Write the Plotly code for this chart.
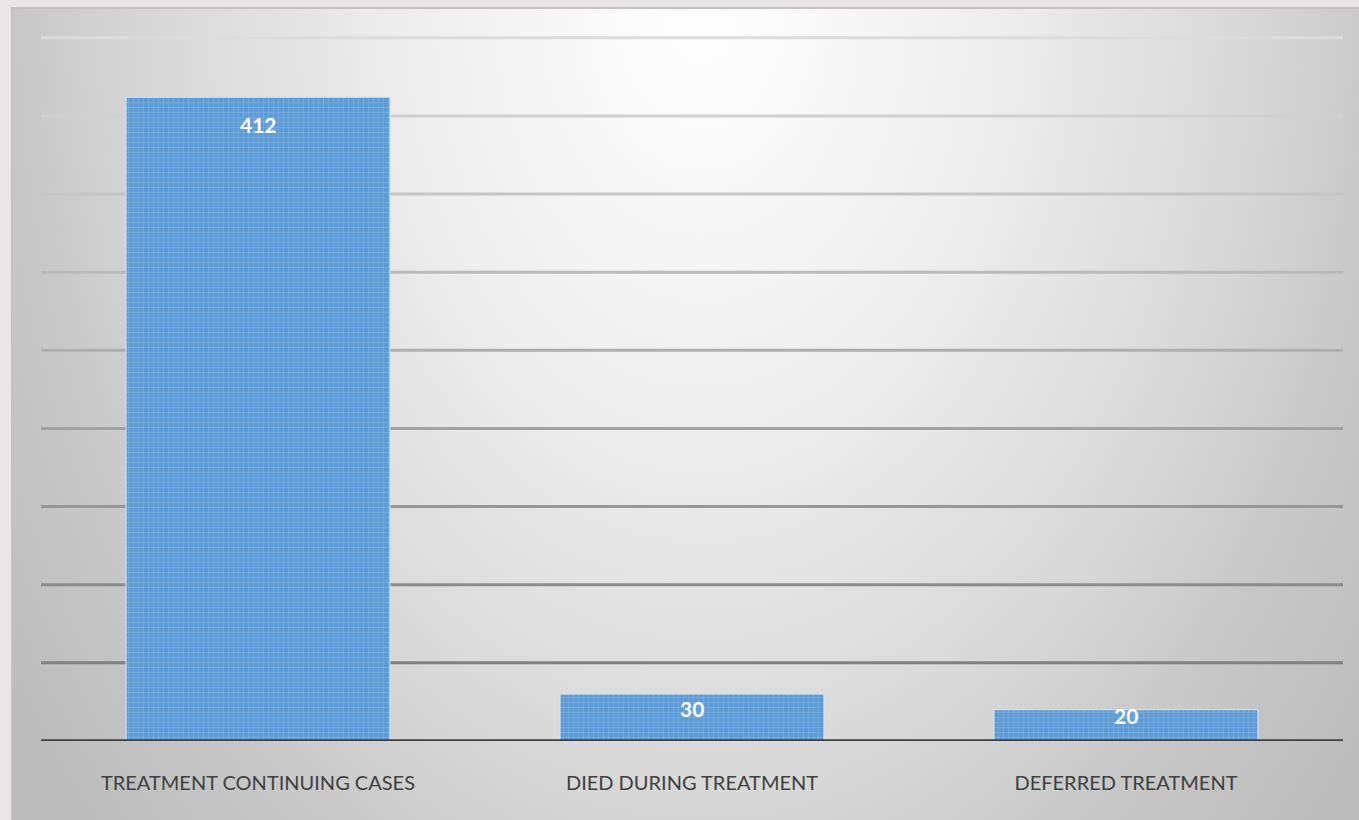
import base64
import plotly.graph_objects as go

# ---- data ----
categories = ["TREATMENT CONTINUING CASES", "DIED DURING TREATMENT", "DEFERRED TREATMENT"]
values = [412, 30, 20]
grid_ticks = [50, 100, 150, 200, 250, 300, 350, 400, 450]

# label offsets (px, below bar top) as in the reference rendering
label_shift = [-27, -14, -6]

W, H = 1359, 820

# radial gradient panel as an inline SVG image (panel starts at x=11, y=7)
svg = (
    "<svg xmlns='http://www.w3.org/2000/svg' width='1348' height='813' viewBox='0 0 1348 813' preserveAspectRatio='none'>"
    "<defs><radialGradient id='g' gradientUnits='userSpaceOnUse' cx='690' cy='0' r='1200' "
    "gradientTransform='translate(690,0) scale(0.7,1) translate(-690,0)'>"
    "<stop offset='0' stop-color='#ffffff'/>"
    "<stop offset='0.35' stop-color='#eeeeee'/>"
    "<stop offset='0.67' stop-color='#d6d6d6'/>"
    "<stop offset='0.8' stop-color='#c9c9c9'/>"
    "<stop offset='1' stop-color='#bcbcbc'/>"
    "</radialGradient></defs>"
    "<rect x='0' y='0' width='1348' height='813' fill='url(#g)'/>"
    "<rect x='0' y='0' width='1348' height='2' fill='#c2c2c2'/>"
    "<rect x='0' y='0' width='2' height='813' fill='#c2c2c2'/>"
    "</svg>"
)
src = "data:image/svg+xml;base64," + base64.b64encode(svg.encode()).decode()

fig = go.Figure()
fig.add_trace(go.Bar(
    x=categories,
    y=values,
    width=0.608,
    marker=dict(
        color="#5d9cd6",
        line=dict(color="#d6e4f2", width=1),
        pattern=dict(shape="+", size=5, solidity=0.15, fgcolor="#b3d1ee", fgopacity=0.6, bgcolor="#5d9cd6"),
    ),
    hoverinfo="x+y",
))

for c, v, s in zip(categories, values, label_shift):
    fig.add_annotation(
        x=c, y=v, xref="x", yref="y", text=f"<b>{v}</b>", showarrow=False,
        yanchor="middle", yshift=s,
        font=dict(family="Lato, Open Sans, sans-serif", size=21, color="#ffffff"),
    )

# gridlines, colour darkening towards the baseline
shapes = []
n = len(grid_ticks)
for i, t in enumerate(grid_ticks):
    f = i / (n - 1)  # 0 at lowest, 1 at highest
    g = int(round(0x80 + f * (0xdc - 0x80)))
    col = f"rgb({g},{g},{g})"
    shapes.append(dict(type="line", xref="paper", yref="y", x0=0, x1=1, y0=t, y1=t,
                       line=dict(color=col, width=3), layer="below"))
shapes.append(dict(type="line", xref="paper", yref="y", x0=0, x1=1, y0=0, y1=0,
                   line=dict(color="#404040", width=3.5), layer="above"))

fig.update_layout(
    width=W, height=H,
    margin=dict(l=41, r=16, t=30, b=79),
    paper_bgcolor="#e8e6e6",
    plot_bgcolor="rgba(0,0,0,0)",
    showlegend=False,
    shapes=shapes,
    images=[dict(source=src, xref="paper", yref="paper",
                 x=-30 / 1302, y=1 + 23 / 711, sizex=1348 / 1302, sizey=813 / 711,
                 xanchor="left", yanchor="top", sizing="stretch", layer="below")],
    xaxis=dict(showgrid=False, zeroline=False, showline=False, ticks="",
               ticklabelstandoff=28,
               tickfont=dict(family="Lato, Open Sans, sans-serif", size=20, color="#404040")),
    yaxis=dict(range=[0, 455], showgrid=False, zeroline=False, showline=False,
               showticklabels=False, ticks=""),
    bargap=0.392,
)

fig.write_html("out.html")
